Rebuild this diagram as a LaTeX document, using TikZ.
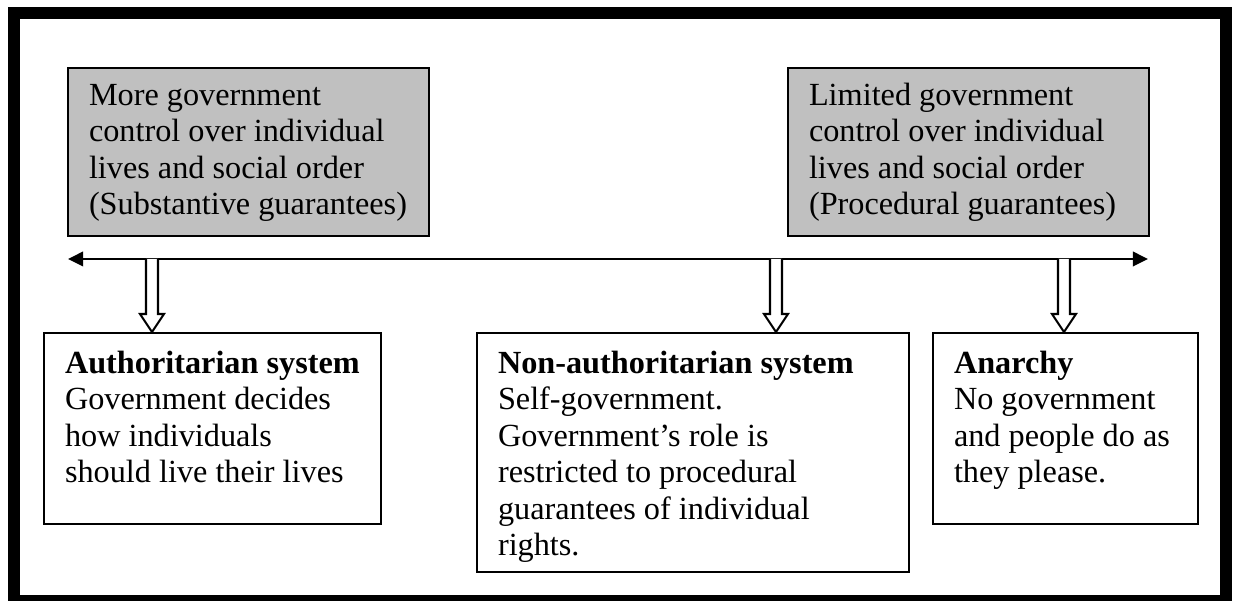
\documentclass[tikz,border=0pt]{standalone}
\usepackage{fontspec}
\setmainfont{Liberation Serif}
\usetikzlibrary{arrows.meta,calc}

\definecolor{capGray}{RGB}{192,192,192}
\newdimen\unitpx \unitpx=0.372pt
% box text: width (px), height (px), first baseline (px), lines
\newcommand{\boxText}[4]{\parbox[t][#2\unitpx][t]{#1\unitpx}{\raggedright\leftskip=21\unitpx\rule{0pt}{#3\unitpx}#4}}
% hollow block arrow from a point on the axis down to the top of a box
\newcommand{\hollowArrow}[2]{%
    \coordinate (#1_tip) at (#2.north -| #1);
    \draw[hollowStyle] ($(#1)+(-6,0)$) -- ($(#1_tip)+(-6,-18)$) -- ++(-6,0) -- (#1_tip) -- ++(12,-18) -- ++(-6,0) -- ($(#1)+(6,0)$);
}

\begin{document}
\begin{tikzpicture}[x=0.372pt, y=-0.372pt, capStyle/.style={rectangle, draw, fill=capGray, line width=0.75pt, inner sep=0pt, anchor=north west, font=\fontsize{12pt}{13.6pt}\selectfont}, sysStyle/.style={rectangle, draw, fill=white, line width=0.75pt, inner sep=0pt, anchor=north west, font=\fontsize{12pt}{13.6pt}\selectfont}, hollowStyle/.style={draw, fill=white, line width=0.75pt, line join=miter}, axisStyle/.style={line width=0.75pt, {Triangle[length=5.6pt, width=5.4pt]}-{Triangle[length=5.6pt, width=5.4pt]}}]
    \useasboundingbox (0,0) rectangle (1233,601);
    \draw[line width=4.46pt] (14,13) rectangle (1226,601);

    \node[capStyle] (cap_0) at (67, 67) {\boxText{361}{168}{37}{More government\\control over individual\\lives and social order\\(Substantive guarantees)}};
    \node[capStyle] (cap_1) at (787, 67) {\boxText{361}{168}{37}{Limited government\\control over individual\\lives and social order\\(Procedural guarantees)}};

    \node[sysStyle] (sys_0) at (43, 332) {\boxText{337}{191}{40}{\textbf{Authoritarian system}\\Government decides\\how individuals\\should live their lives}};
    \node[sysStyle] (sys_1) at (476, 332) {\boxText{432}{239}{40}{\textbf{Non-authoritarian system}\\Self-government.\\Government's role is\\restricted to procedural\\guarantees of individual\\rights.}};
    \node[sysStyle] (sys_2) at (932, 332) {\boxText{265}{191}{40}{\textbf{Anarchy}\\No government\\and people do as\\they please.}};

    \coordinate (axis_L) at (68, 259);
    \coordinate (axis_R) at (1148, 259);
    \coordinate (axis_0) at (152, 259);
    \coordinate (axis_1) at (776, 259);
    \coordinate (axis_2) at (1064, 259);

    \draw[axisStyle] (axis_L) -- (axis_R);

    \hollowArrow{axis_0}{sys_0}
    \hollowArrow{axis_1}{sys_1}
    \hollowArrow{axis_2}{sys_2}
\end{tikzpicture}
\end{document}
